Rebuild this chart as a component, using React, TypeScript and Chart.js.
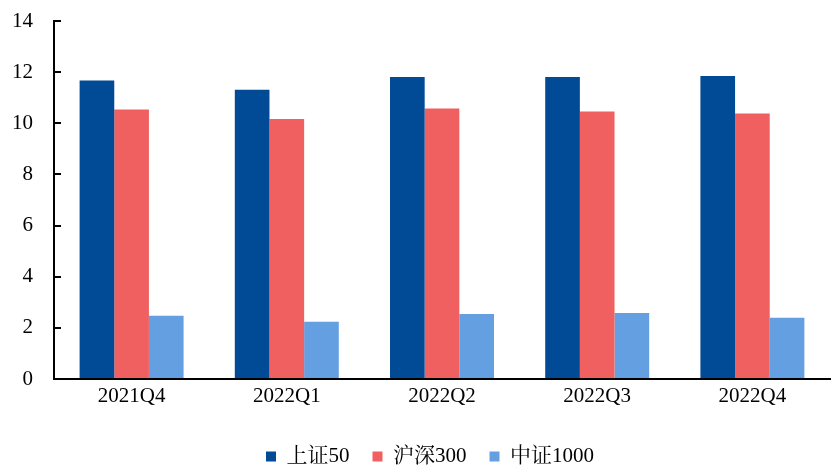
import React, { useEffect, useRef } from "react";
import { Chart, registerables } from "chart.js";

Chart.register(...registerables);

const categories = ["2021Q4", "2022Q1", "2022Q2", "2022Q3", "2022Q4"];
const sz50 = [11.67, 11.31, 11.81, 11.81, 11.85];
const hs300 = [10.54, 10.17, 10.58, 10.46, 10.38];
const zz1000 = [2.47, 2.24, 2.54, 2.58, 2.4];
const seriesNames = ["上证50", "沪深300", "中证1000"];
const seriesColors = ["#004A96", "#F06060", "#64A0E1"];
const yMin = 0;
const yMax = 14;
const yStep = 2;

const FONT = "'Times New Roman', 'Liberation Serif', 'Noto Serif CJK SC', 'Noto Sans CJK SC', serif";

const legendShift = {
  id: "legendShift",
  afterLayout(chart: any) {
    if (chart.legend) {
      chart.legend.left += 30;
    }
  },
};

export default function App() {
  const ref = useRef<HTMLCanvasElement | null>(null);
  useEffect(() => {
    if (!ref.current) return;
    const values = [sz50, hs300, zz1000];
    const chart = new Chart(ref.current, {
      type: "bar",
      data: {
        labels: categories,
        datasets: seriesNames.map((name, i) => ({
          label: name,
          data: values[i],
          backgroundColor: seriesColors[i],
          borderWidth: 0,
          categoryPercentage: 0.67,
          barPercentage: 1.0,
        })),
      },
      plugins: [legendShift],
      options: {
        responsive: false,
        animation: false,
        maintainAspectRatio: false,
        layout: { padding: { top: 21, right: 7, left: 0, bottom: -3 } },
        plugins: {
          tooltip: { enabled: false },
          legend: {
            position: "bottom",
            labels: {
              boxWidth: 10,
              boxHeight: 10,
              padding: 23,
              color: "#000",
              font: { family: FONT, size: 21 },
            },
          },
        },
        scales: {
          x: {
            grid: { display: false, drawTicks: false },
            border: { display: true, color: "#000", width: 2 },
            ticks: {
              color: "#000",
              padding: 5,
              font: { family: FONT, size: 21 },
              maxRotation: 0,
            },
            afterFit: (scale: any) => {
              scale.height = 44;
              scale.paddingLeft = 0;
              scale.paddingRight = 0;
            },
          },
          y: {
            min: yMin,
            max: yMax,
            grid: {
              drawOnChartArea: false,
              drawTicks: true,
              tickLength: -7,
              color: "#000",
              lineWidth: 2,
            },
            border: { display: true, color: "#000", width: 2 },
            ticks: {
              stepSize: yStep,
              color: "#000",
              padding: 28,
              font: { family: FONT, size: 21 },
            },
            afterFit: (scale: any) => {
              scale.width = 54;
              scale.paddingTop = 0;
              scale.paddingBottom = 0;
            },
          },
        },
      },
    });
    return () => chart.destroy();
  }, []);
  return (
    <div style={{ position: "fixed", left: 0, top: 0, width: 837, height: 474, background: "#fff" }}>
      <canvas ref={ref} width={837} height={474} style={{ width: 837, height: 474 }} />
    </div>
  );
}
